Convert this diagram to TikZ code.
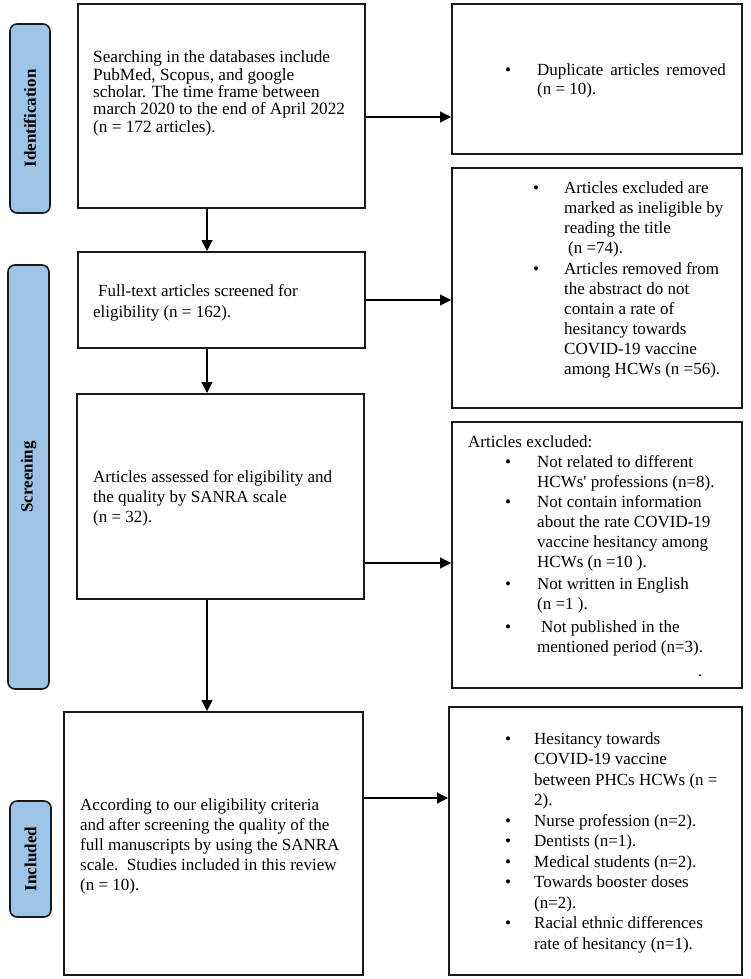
\documentclass[tikz,border=0pt]{standalone}
\usepackage{fontspec}
\setmainfont{Liberation Serif}
\newfontfamily\rf{Liberation Serif}
\usetikzlibrary{arrows.meta,calc}
\definecolor{labblue}{HTML}{9DC3E6}
\tikzset{
  box/.style={draw=black!90, line width=2pt, rectangle, inner sep=0pt},
  lab/.style={draw=black!90, line width=1.6pt, fill=labblue, rounded corners=7pt, inner sep=0pt,
    rotate=90, font=\rf\bfseries\fontsize{17}{20}\selectfont},
  txt/.style={inner sep=0pt, anchor=base west, font=\rf\fontsize{17}{20}\selectfont},
  arr/.style={line width=1.2pt, -{Triangle[length=11pt,width=11pt]}}
}
\begin{document}
\begin{tikzpicture}[x=1pt,y=-1pt]
\useasboundingbox (0,0) rectangle (750,979);
% side labels
\node[lab, minimum width=189pt, minimum height=40pt] (lid) at (30,118.5) {Identification};
\node[lab, minimum width=424pt, minimum height=41pt] (lsc) at (28.5,477) {Screening};
\node[lab, minimum width=116pt, minimum height=41pt] (lin) at (30.5,859) {Included};
% boxes
\node[box, minimum width=287pt, minimum height=204pt] (box1) at (221.5,106) {};
\node[box, minimum width=290pt, minimum height=150pt] (dup) at (597,79) {};
\node[box, minimum width=287pt, minimum height=96pt] (box2) at (221.5,300) {};
\node[box, minimum width=290pt, minimum height=240pt] (exa) at (597,288) {};
\node[box, minimum width=287pt, minimum height=205pt] (box3) at (220.5,496.5) {};
\node[box, minimum width=290pt, minimum height=266pt] (exb) at (597,555) {};
\node[box, minimum width=299pt, minimum height=263pt] (box4) at (213.5,843.5) {};
\node[box, minimum width=293pt, minimum height=268pt] (box5) at (595.5,841) {};
% texts
\node[txt, font=\rf\fontsize{17.2}{17.3}\selectfont] (t1) at (93,63) {\begin{tabular}[t]{@{}l@{}}
Searching in the databases include\\
PubMed, Scopus, and google\\
scholar. The time frame between\\
march 2020 to the end of April 2022\\
(n = 172 articles).\end{tabular}};
\node[txt, font=\rf\fontsize{17}{21}\selectfont] (t2) at (93,296) {\begin{tabular}[t]{@{}l@{}}
\hspace{5pt}Full-text articles screened for\\
eligibility (n = 162).\end{tabular}};
\node[txt] (t3) at (93,482) {\begin{tabular}[t]{@{}l@{}}
Articles assessed for eligibility and\\
the quality by SANRA scale\\
(n = 32).\end{tabular}};
\node[txt] (t4) at (80,810) {\begin{tabular}[t]{@{}l@{}}
According to our eligibility criteria\\
and after screening the quality of the\\
full manuscripts by using the SANRA\\
scale.\ \ Studies included in this review\\
(n = 10).\end{tabular}};
\node[txt, font=\rf\fontsize{17}{19}\selectfont] (td) at (505,76) {\begin{tabular}[t]{@{}p{32pt}@{}l@{}}
\textbullet & Duplicate\hspace{7pt}articles\hspace{7pt}removed\\
 & (n = 10).\end{tabular}};
\node[txt] (ta) at (533,193) {\begin{tabular}[t]{@{}p{31pt}@{}l@{}}
\textbullet & Articles excluded are\\
 & marked as ineligible by\\
 & reading the title\\
 & \hspace{4pt}(n =74).\\[1pt]
\textbullet & Articles removed from\\
 & the abstract do not\\
 & contain a rate of\\
 & hesitancy towards\\
 & COVID-19 vaccine\\
 & among HCWs (n =56).\end{tabular}};
\node[txt] (tb) at (468,447) {\begin{tabular}[t]{@{\hspace{37pt}}p{32pt}@{}l@{}}
\multicolumn{2}{@{}l@{}}{Articles excluded:}\\
\textbullet & Not related to different\\
 & HCWs' professions (n=8).\\
\textbullet & Not contain information\\
 & about the rate COVID-19\\
 & vaccine hesitancy among\\
 & HCWs (n =10 ).\\[2pt]
\textbullet & Not written in English\\
 & (n =1 ).\\[3pt]
\textbullet & \hspace{4pt}Not published in the\\
 & mentioned period (n=3).\\[4pt]
 & \hspace{161pt}.\end{tabular}};
\node[txt, font=\rf\fontsize{17}{20.5}\selectfont] (t5) at (505,744) {\begin{tabular}[t]{@{}p{29pt}@{}l@{}}
\textbullet & Hesitancy towards\\
 & COVID-19 vaccine\\
 & between PHCs HCWs (n =\\
 & 2).\\
\textbullet & Nurse profession (n=2).\\
\textbullet & Dentists (n=1).\\
\textbullet & Medical students (n=2).\\
\textbullet & Towards booster doses\\
 & (n=2).\\
\textbullet & Racial ethnic differences\\
 & rate of hesitancy (n=1).\end{tabular}};
% connectors
\coordinate (h1) at ([yshift=-11pt]box1.east);
\draw[arr] (h1) -- (h1 -| dup.west);
\draw[arr] (box2.east) -- (box2.east -| exa.west);
\coordinate (h3) at ([yshift=-66.5pt]box3.east);
\draw[arr] (h3) -- (h3 -| exb.west);
\coordinate (h4) at ([yshift=45.5pt]box4.east);
\draw[arr] (h4) -- (h4 -| box5.west);
\coordinate (v1) at ([xshift=-14.5pt]box1.south);
\draw[arr] (v1) -- (v1 |- box2.north);
\coordinate (v2) at ([xshift=-14.5pt]box2.south);
\draw[arr] (v2) -- (v2 |- box3.north);
\coordinate (v3) at ([xshift=-13.5pt]box3.south);
\draw[arr] (v3) -- (v3 |- box4.north);
\end{tikzpicture}
\end{document}
